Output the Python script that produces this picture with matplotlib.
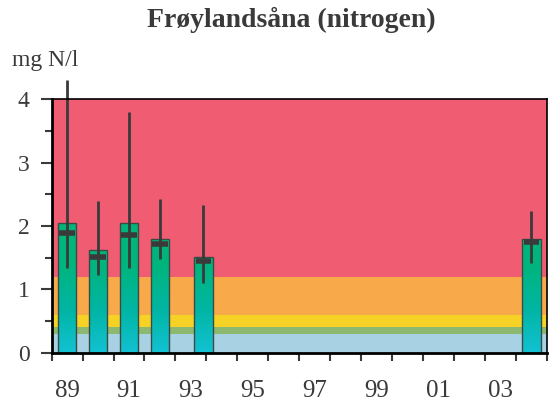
import matplotlib.pyplot as plt
import numpy as np
from matplotlib.colors import LinearSegmentedColormap
from matplotlib.patches import Rectangle

# Data
years = [1989, 1990, 1991, 1992, 1993.4, 2004]
bar_tops = [2.04, 1.62, 2.04, 1.795, 1.515, 1.795]
means = [1.885, 1.505, 1.85, 1.71, 1.44, 1.75]
err_hi = [4.30, 2.39, 3.79, 2.43, 2.33, 2.23]
err_lo = [1.33, 1.23, 1.33, 1.47, 1.095, 1.41]

# Class limits (mg N/l) and colours
class_limits = [0, 0.3, 0.4, 0.6, 1.2, 4.0]
class_colors = ["#a9d1e4", "#8cb86f", "#f5d225", "#f8aa4b", "#f05c72"]

tick_labels = ["89", "91", "93", "95", "97", "99", "01", "03"]
tick_years = [1989, 1991, 1993, 1995, 1997, 1999, 2001, 2003]

plt.rcParams["font.family"] = ["Liberation Serif", "DejaVu Serif"]

fig = plt.figure(figsize=(5.49, 4.03), dpi=100)
ax = fig.add_axes([0.094, 0.125, 0.902, 0.629])

x0, x1 = 1988.5, 2004.5
ax.set_xlim(x0, x1)
ax.set_ylim(0, 4)

# Background bands
for lo, hi, c in zip(class_limits[:-1], class_limits[1:], class_colors):
    ax.axhspan(lo, hi, color=c, lw=0, zorder=0)

# Bars with vertical gradient
cmap = LinearSegmentedColormap.from_list(
    "bar", ["#12c2d4", "#00b5a2", "#00b57c", "#00b57a"])
grad = np.linspace(0, 1, 256).reshape(-1, 1)
w = 0.6
for x, h in zip(years, bar_tops):
    im = ax.imshow(grad, cmap=cmap, aspect="auto", origin="lower",
                   extent=[x - w / 2, x + w / 2, 0, 2.1], vmin=0, vmax=1,
                   zorder=2)
    rect = Rectangle((x - w / 2, 0), w, h, facecolor="none",
                     edgecolor="#3c4a46", lw=1.0, zorder=3)
    ax.add_patch(rect)
    im.set_clip_path(rect)

# Range lines and mean markers
for x, m, lo, hi in zip(years, means, err_lo, err_hi):
    ax.plot([x, x], [lo, hi], color="#3a3a3a", lw=2, zorder=4,
            clip_on=False, solid_capstyle="butt")
    ax.plot([x - 0.25, x + 0.25], [m, m], color="#3a3a3a", lw=4,
            zorder=5, solid_capstyle="butt")

# Axes styling
for s in ax.spines.values():
    s.set_linewidth(1.2)
    s.set_color("black")
    s.set_zorder(6)
ax.spines["left"].set_linewidth(2)
ax.spines["bottom"].set_linewidth(2)

ax.set_yticks([0, 1, 2, 3, 4])
ax.set_yticks(np.arange(0.5, 4, 1), minor=True)
ax.tick_params(axis="y", which="major", length=8, width=1.5,
               labelsize=17, pad=8, colors="#3a3a3a")
ax.tick_params(axis="y", which="minor", length=5, width=1.5, colors="#3a3a3a")

ax.set_xticks(np.arange(x0, x1 + 0.1, 1))
ax.set_xticklabels([])
ax.set_xticks(tick_years, minor=True)
ax.set_xticklabels(tick_labels, minor=True)
ax.tick_params(axis="x", which="major", length=6, width=1.5, colors="#3a3a3a")
ax.tick_params(axis="x", which="minor", length=0, labelsize=18, pad=20,
               colors="#3a3a3a")

fig.text(0.53, 0.95, "Frøylandsåna (nitrogen)", ha="center", va="center",
         fontsize=20, fontweight="bold", color="#3a3a3a")
fig.text(0.022, 0.85, "mg N/l", ha="left", va="center", fontsize=17,
         color="#3a3a3a")

fig.savefig("out.png", dpi=100)
